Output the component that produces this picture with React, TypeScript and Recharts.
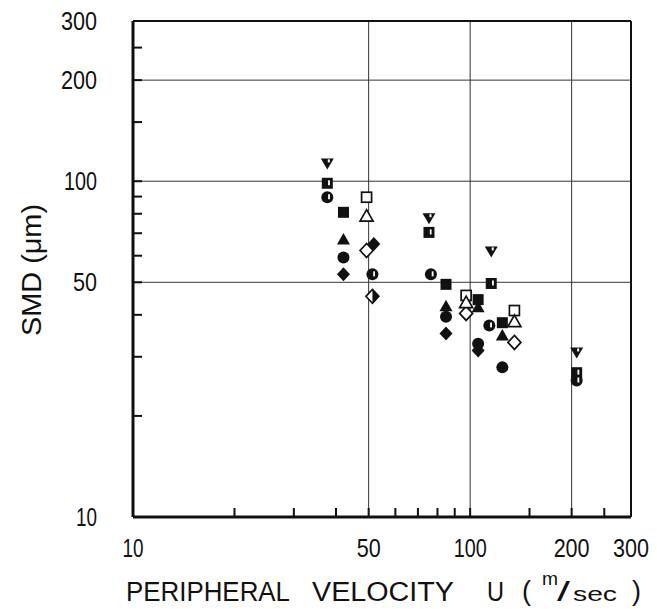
import React from 'react'
import { ScatterChart, Scatter, XAxis, YAxis, ReferenceLine } from 'recharts'

const FONT = '"Liberation Sans Narrow", "Liberation Sans", Arial, sans-serif'
const INK = '#111'

const xTicks = [10, 20, 30, 40, 50, 60, 70, 80, 90, 100, 150, 200, 250, 300]
const yTicks = [10, 20, 30, 40, 50, 60, 70, 80, 90, 100, 150, 200, 250, 300]
const labelTicks = [10, 50, 100, 200, 300]
const gridValues = [50, 100, 200]

// peripheral velocity U (m/sec) and SMD (um), one pair of arrays per symbol
const downTriU = [37.7, 75.5, 115.5, 207]
const downTriSmd = [113, 77.6, 61.8, 30.9]
const halfSquareU = [37.7, 75.5, 115.5, 207]
const halfSquareSmd = [98.6, 70.4, 49.6, 26.9]
const halfCircleU = [37.7, 51.3, 76.5, 114, 207]
const halfCircleSmd = [89.6, 52.8, 52.8, 37.2, 25.5]
const squareU = [42.1, 84.8, 105.6, 124.6]
const squareSmd = [80.8, 49.3, 44.4, 37.9]
const triU = [42.1, 84.8, 105.6, 124.6]
const triSmd = [67.1, 42.4, 42.1, 34.7]
const circleU = [42.1, 84.8, 105.6, 124.6]
const circleSmd = [59.3, 39.5, 32.8, 27.9]
const diamondU = [42.1, 51.8, 84.8, 105.6]
const diamondSmd = [52.8, 65, 35.2, 31.3]
const halfDiamondU = [51.3]
const halfDiamondSmd = [45.4]
const openSquareU = [49.3, 97.3, 135.3]
const openSquareSmd = [89.6, 45.7, 41.2]
const openTriU = [49.3, 97.3, 135.3]
const openTriSmd = [78.7, 43.5, 38.2]
const openDiamondU = [49.3, 97.3, 135.3]
const openDiamondSmd = [62.2, 40.4, 33.1]

type Kind =
  | 'downTri'
  | 'halfSquare'
  | 'halfCircle'
  | 'square'
  | 'tri'
  | 'circle'
  | 'diamond'
  | 'halfDiamond'
  | 'openSquare'
  | 'openTri'
  | 'openDiamond'

const toPoints = (u: number[], smd: number[]) => u.map((x, i) => ({ x, y: smd[i] }))

const series: { kind: Kind; data: { x: number; y: number }[] }[] = [
  { kind: 'downTri', data: toPoints(downTriU, downTriSmd) },
  { kind: 'halfSquare', data: toPoints(halfSquareU, halfSquareSmd) },
  { kind: 'halfCircle', data: toPoints(halfCircleU, halfCircleSmd) },
  { kind: 'square', data: toPoints(squareU, squareSmd) },
  { kind: 'tri', data: toPoints(triU, triSmd) },
  { kind: 'circle', data: toPoints(circleU, circleSmd) },
  { kind: 'openDiamond', data: toPoints(openDiamondU, openDiamondSmd) },
  { kind: 'diamond', data: toPoints(diamondU, diamondSmd) },
  { kind: 'halfDiamond', data: toPoints(halfDiamondU, halfDiamondSmd) },
  { kind: 'openSquare', data: toPoints(openSquareU, openSquareSmd) },
  { kind: 'openTri', data: toPoints(openTriU, openTriSmd) },
]

function Marker({ cx, cy, kind }: { cx?: number; cy?: number; kind: Kind }) {
  if (cx == null || cy == null) return null
  const slit = <rect x={cx + 0.8} y={cy - 3} width={1.8} height={5} fill="#fff" />
  switch (kind) {
    case 'downTri':
      return (
        <g>
          <polygon points={`${cx - 6.5},${cy - 5} ${cx + 6.5},${cy - 5} ${cx},${cy + 6}`} fill={INK} />
          <rect x={cx + 0.5} y={cy - 4} width={2} height={3} fill="#fff" />
        </g>
      )
    case 'halfSquare':
      return (
        <g>
          <rect x={cx - 5.5} y={cy - 5.5} width={11} height={11} fill={INK} />
          {slit}
        </g>
      )
    case 'halfCircle':
      return (
        <g>
          <circle cx={cx} cy={cy} r={6} fill={INK} />
          {slit}
        </g>
      )
    case 'square':
      return <rect x={cx - 5.5} y={cy - 5.5} width={11} height={11} fill={INK} />
    case 'tri':
      return <polygon points={`${cx - 6.5},${cy + 5} ${cx + 6.5},${cy + 5} ${cx},${cy - 6.5}`} fill={INK} />
    case 'circle':
      return <circle cx={cx} cy={cy} r={6} fill={INK} />
    case 'diamond':
      return <polygon points={`${cx},${cy - 7} ${cx + 6.5},${cy} ${cx},${cy + 7} ${cx - 6.5},${cy}`} fill={INK} />
    case 'halfDiamond':
      return (
        <g>
          <polygon points={`${cx},${cy - 7} ${cx + 6.5},${cy} ${cx},${cy + 7} ${cx - 6.5},${cy}`} fill="#fff" stroke={INK} strokeWidth={1.6} />
          <polygon points={`${cx},${cy - 7} ${cx + 6.5},${cy} ${cx},${cy + 7}`} fill={INK} />
        </g>
      )
    case 'openSquare':
      return <rect x={cx - 5} y={cy - 5} width={10} height={10} fill="#fff" stroke={INK} strokeWidth={1.7} />
    case 'openTri':
      return <polygon points={`${cx - 6.5},${cy + 5} ${cx + 6.5},${cy + 5} ${cx},${cy - 6.5}`} fill="#fff" stroke={INK} strokeWidth={1.7} />
    case 'openDiamond':
      return <polygon points={`${cx},${cy - 7} ${cx + 6.5},${cy} ${cx},${cy + 7} ${cx - 6.5},${cy}`} fill="#fff" stroke={INK} strokeWidth={1.7} />
  }
  return null
}

const labelWidth = (v: number) => String(v).length * 12 - (String(v)[0] === '1' ? 3 : 0)

function XTick(props: any) {
  const { x, y, payload } = props
  const v = payload.value
  return (
    <g>
      {v !== 10 && v !== 300 && <line x1={x} x2={x} y1={y} y2={y - 9} stroke={INK} strokeWidth={2} />}
      {labelTicks.includes(v) && (
        <text
          x={x}
          y={y + 40}
          textAnchor="middle"
          fontFamily={FONT}
          fontSize={26}
          fill={INK}
          textLength={labelWidth(v)}
          lengthAdjust="spacingAndGlyphs"
        >
          {v}
        </text>
      )}
    </g>
  )
}

function YTick(props: any) {
  const { x, y, payload } = props
  const v = payload.value
  return (
    <g>
      {v !== 10 && <line x1={x} x2={x + 9} y1={y} y2={y} stroke={INK} strokeWidth={2} />}
      {labelTicks.includes(v) && (
        <text
          x={x - 36}
          y={y + 9}
          textAnchor="end"
          fontFamily={FONT}
          fontSize={26}
          fill={INK}
          textLength={labelWidth(v)}
          lengthAdjust="spacingAndGlyphs"
        >
          {v}
        </text>
      )}
    </g>
  )
}

function XTitle() {
  const t = { fontFamily: FONT, fill: INK, lengthAdjust: 'spacingAndGlyphs' as const }
  return (
    <g>
      <text {...t} x={126} y={601} fontSize={27} textLength={164}>PERIPHERAL</text>
      <text {...t} x={312} y={601} fontSize={27} textLength={142}>VELOCITY</text>
      <text {...t} x={487} y={601} fontSize={27} textLength={17}>U</text>
      <text {...t} x={522} y={600} fontSize={27} textLength={9}>(</text>
      <text {...t} x={542} y={585} fontSize={19} textLength={16}>m</text>
      <text {...t} x={557} y={601} fontSize={27} textLength={13}>/</text>
      <text {...t} x={573} y={601} fontSize={21} textLength={44}>sec</text>
      <text {...t} x={632} y={600} fontSize={27} textLength={9}>)</text>
    </g>
  )
}

function YTitle() {
  return (
    <text
      x={41}
      y={270}
      transform="rotate(-90, 41, 270)"
      textAnchor="middle"
      fontFamily={FONT}
      fontSize={28}
      fill={INK}
      textLength={132}
      lengthAdjust="spacingAndGlyphs"
    >
      SMD (μm)
    </text>
  )
}

export default function App() {
  return (
    <div style={{ position: 'absolute', left: 0, top: 0, width: 657, height: 609, background: '#fff' }}>
      <ScatterChart width={657} height={609} margin={{ top: 21, right: 26, bottom: 0, left: 0 }}>
        <XAxis
          type="number"
          dataKey="x"
          scale="log"
          domain={[10, 300]}
          ticks={xTicks}
          interval={0}
          tick={<XTick />}
          tickLine={false}
          tickSize={0}
          tickMargin={0}
          axisLine={{ stroke: INK, strokeWidth: 3 }}
          height={92}
          allowDataOverflow
          label={<XTitle />}
        />
        <YAxis
          type="number"
          dataKey="y"
          scale="log"
          domain={[10, 300]}
          ticks={yTicks}
          interval={0}
          tick={<YTick />}
          tickLine={false}
          tickSize={0}
          tickMargin={0}
          axisLine={{ stroke: INK, strokeWidth: 3 }}
          width={133}
          allowDataOverflow
          label={<YTitle />}
        />
        {gridValues.map((v) => (
          <ReferenceLine key={`gx${v}`} x={v} stroke="#333" strokeWidth={1} />
        ))}
        {gridValues.map((v) => (
          <ReferenceLine key={`gy${v}`} y={v} stroke="#333" strokeWidth={1} />
        ))}
        <ReferenceLine x={300} stroke={INK} strokeWidth={2} />
        <ReferenceLine y={300} stroke={INK} strokeWidth={2} />
        {series.map((s) => (
          <Scatter
            key={s.kind}
            data={s.data}
            isAnimationActive={false}
            shape={(p: any) => <Marker cx={p.cx} cy={p.cy} kind={s.kind} />}
          />
        ))}
      </ScatterChart>
    </div>
  )
}
